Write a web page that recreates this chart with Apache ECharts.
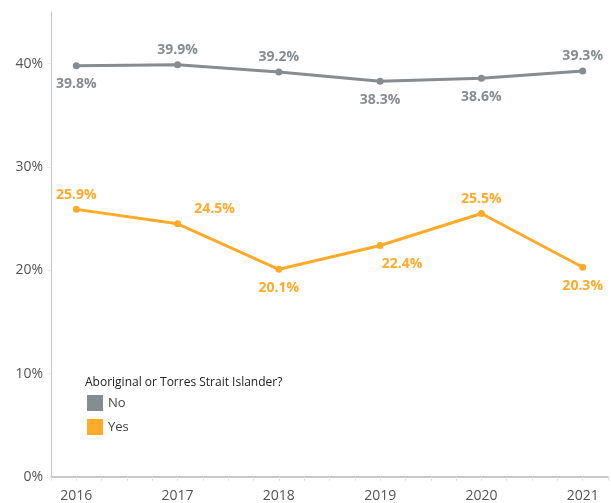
<!DOCTYPE html>
<html>
<head>
<meta charset="utf-8">
<script src="https://cdn.jsdelivr.net/npm/echarts@6/dist/echarts.min.js"></script>
<style>
  html, body { margin: 0; padding: 0; background: #fff; }
  #main { width: 611px; height: 503px; }
</style>
</head>
<body>
<div id="main"></div>
<script>
// 年份
var years = [2016, 2017, 2018, 2019, 2020, 2021];
// 非原住民
var no_vals = [39.8, 39.9, 39.2, 38.3, 38.6, 39.3];
// 原住民
var yes_vals = [25.9, 24.5, 20.1, 22.4, 25.5, 20.3];
// 标签位置
var no_pos = ['bottom', 'top', 'top', 'bottom', 'bottom', 'top'];
var yes_pos = ['top', 'top', 'bottom', 'bottom', 'top', 'bottom'];
var yes_shift = [0, 37, 0, 22, 0, 0];

var legend_title = 'Aboriginal or Torres Strait Islander?';
var names = ['No', 'Yes'];
var colors = ['#878c90', '#ffaa28'];

var ec = echarts.init(document.getElementById('main'));

function makeData(vals, pos, shift) {
  return vals.map(function(v, i) {
    return {
      value: [years[i], v],
      label: {
        position: pos[i],
        distance: pos[i] === 'bottom' ? 8 : 4,
        offset: [shift ? shift[i] : 0, 0]
      }
    };
  });
}

var series = [no_vals, yes_vals].map(function(vals, idx) {
  return {
    name: names[idx],
    type: 'line',
    data: makeData(vals, idx === 0 ? no_pos : yes_pos, idx === 0 ? null : yes_shift),
    symbol: 'circle',
    symbolSize: 7,
    lineStyle: { width: 3 },
    label: {
      show: true,
      color: colors[idx],
      fontWeight: 'bold',
      fontSize: 14,
      fontFamily: 'Open Sans',
      formatter: function(p) { return p.value[1].toFixed(1) + '%'; }
    }
  };
});

ec.setOption({
  color: colors,
  animation: false,
  textStyle: { fontFamily: 'Open Sans' },
  grid: { left: 51, right: 0, top: 12, bottom: 26 },
  title: {
    text: legend_title,
    left: 80,
    top: 372,
    textStyle: { fontSize: 12, fontWeight: 'normal', color: '#222', fontFamily: 'Open Sans' }
  },
  legend: {
    data: names,
    orient: 'vertical',
    left: 82,
    top: 390,
    icon: 'rect',
    itemWidth: 16,
    itemHeight: 16,
    itemGap: 8,
    textStyle: { fontSize: 13, color: '#444' }
  },
  xAxis: {
    type: 'value',
    min: 2015.75,
    max: 2021.25,
    interval: 0.25,
    splitLine: { show: false },
    axisLine: { lineStyle: { color: '#c8c8c8', width: 2 } },
    axisTick: { show: true, length: 4, lineStyle: { color: '#e4e4e4' } },
    axisLabel: {
      color: '#555',
      fontSize: 14,
      margin: 12,
      formatter: function(v) { return Math.abs(v - Math.round(v)) < 1e-6 ? String(Math.round(v)) : ''; }
    }
  },
  yAxis: {
    type: 'value',
    min: 0,
    max: 45,
    interval: 10,
    splitLine: { show: false },
    axisLine: { show: true, lineStyle: { color: '#c8c8c8' } },
    axisTick: { show: true, length: 4, lineStyle: { color: '#eee' } },
    axisLabel: {
      color: '#555',
      fontSize: 14,
      margin: 8,
      showMaxLabel: false,
      formatter: '{value}%'
    }
  },
  series: series
});
</script>
</body>
</html>
